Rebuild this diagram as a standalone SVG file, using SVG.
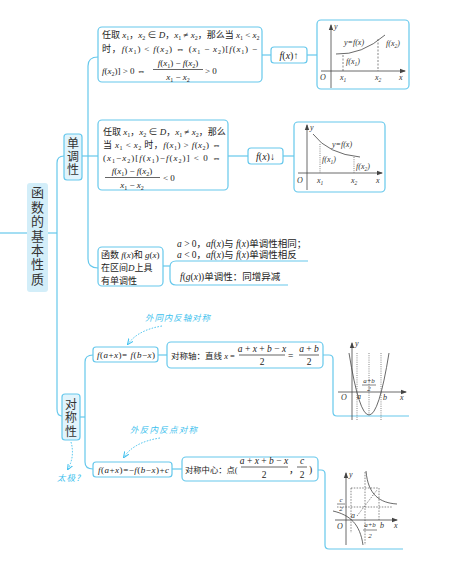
<svg xmlns="http://www.w3.org/2000/svg" width="452" height="578" viewBox="0 0 452 578">
<style>
.ln{fill:none;stroke:#66c8ec;stroke-width:1.2}
.bx{fill:#fff;stroke:#66c8ec;stroke-width:1.2}
.nd{fill:#e1f4fc;stroke:#66c8ec;stroke-width:1.2}
.t{font-family:"Liberation Serif","Noto Sans CJK SC",serif;font-size:9px;fill:#222}
.big{font-family:"Noto Sans CJK SC",sans-serif;font-size:13px;fill:#333;writing-mode:vertical-rl}
.i{font-style:italic}
.s{font-size:6px}
.g{fill:none;stroke:#444;stroke-width:0.8}
.dh{fill:none;stroke:#555;stroke-width:0.7;stroke-dasharray:2 1.5}
.gt{font-family:"Liberation Serif",serif;font-size:8px;font-style:italic;fill:#333}
.an{font-family:"Noto Sans CJK SC",sans-serif;font-size:8.5px;fill:#3dbfee;font-style:italic}
.ad{fill:none;stroke:#3dbfee;stroke-width:1;stroke-dasharray:1.5 1.5}
.fr{stroke:#222;stroke-width:0.7}
</style>
<defs>
<marker id="ax" viewBox="0 0 6 6" refX="5" refY="3" markerWidth="6" markerHeight="6" orient="auto" markerUnits="userSpaceOnUse"><path d="M0 0.8L6 3L0 5.2z" fill="#444"/></marker>
<marker id="aa" viewBox="0 0 6 6" refX="5" refY="3" markerWidth="6" markerHeight="6" orient="auto" markerUnits="userSpaceOnUse"><path d="M0 0.5L6 3L0 5.5" fill="none" stroke="#3dbfee" stroke-width="1"/></marker>
</defs>

<g id="connectors">
<path class="ln" d="M0 233H27"/>
<path class="ln" d="M48 233H57"/>
<path class="ln" d="M64 156Q57 156 57 163V409Q57 416 62 416"/>
<path class="ln" d="M82 156H98"/>
<path class="ln" d="M98 57Q88 57 88 66V259Q88 268 98 268"/>
<path class="ln" d="M262 55H271"/>
<path class="ln" d="M307 55H317"/>
<path class="ln" d="M228 156H248"/>
<path class="ln" d="M283 156H294"/>
<path class="ln" d="M163 266H170"/>
<path class="ln" d="M308 261H176Q170 261 170 267V279Q170 285 176 285H288"/>
<path class="ln" d="M80 417H85"/>
<path class="ln" d="M93 355Q85 355 85 362V462Q85 469 93 469"/>
<path class="ln" d="M158 355H167"/>
<path class="ln" d="M323 355H329Q333 355 333 359V412Q333 416 337 416H409"/>
<path class="ln" d="M172 469H182"/>
<path class="ln" d="M318 470H321Q325 470 325 474V545Q325 549 329 549H403"/>
<path class="ad" d="M162 326Q138 330 128 344" marker-end="url(#aa)"/>
<path class="ad" d="M160 438Q134 442 124 457" marker-end="url(#aa)"/>
<path class="ad" d="M71 442Q75 456 68 469" marker-end="url(#aa)"/>
</g>

<g id="root">
<rect x="27" y="183" width="21" height="109" rx="3" fill="#d3eef9"/>
<text class="big" x="37.5" y="186" style="letter-spacing:1.4px">函数的基本性质</text>
</g>

<g id="mono">
<rect class="nd" x="64" y="134" width="18" height="46" rx="3"/>
<text class="big" x="73" y="137" style="font-size:12px;letter-spacing:1px">单调性</text>
</g>

<g id="sym">
<rect class="nd" x="62" y="394" width="18" height="46" rx="3"/>
<text class="big" x="71" y="398" style="font-size:12px;letter-spacing:1.5px">对称性</text>
</g>

<g id="inc-def">
<rect class="bx" x="98" y="27" width="164" height="55" rx="4"/>
<text class="t" x="102" y="38">任取 <tspan class="i">x</tspan><tspan class="s" dy="2">1</tspan><tspan dy="-2">，</tspan><tspan class="i">x</tspan><tspan class="s" dy="2">2</tspan><tspan dy="-2"> ∈ </tspan><tspan class="i">D</tspan>，<tspan class="i">x</tspan><tspan class="s" dy="2">1</tspan><tspan dy="-2"> ≠ </tspan><tspan class="i">x</tspan><tspan class="s" dy="2">2</tspan><tspan dy="-2">，那么当 </tspan><tspan class="i">x</tspan><tspan class="s" dy="2">1</tspan><tspan dy="-2"> &lt; </tspan><tspan class="i">x</tspan><tspan class="s" dy="2">2</tspan></text>
<text class="t" x="102" y="52" textLength="155">时，<tspan class="i">f</tspan>(<tspan class="i">x</tspan><tspan class="s" dy="2">1</tspan><tspan dy="-2">) &lt; </tspan><tspan class="i">f</tspan>(<tspan class="i">x</tspan><tspan class="s" dy="2">2</tspan><tspan dy="-2">) ⇔ (</tspan><tspan class="i">x</tspan><tspan class="s" dy="2">1</tspan><tspan dy="-2"> − </tspan><tspan class="i">x</tspan><tspan class="s" dy="2">2</tspan><tspan dy="-2">)[</tspan><tspan class="i">f</tspan>(<tspan class="i">x</tspan><tspan class="s" dy="2">1</tspan><tspan dy="-2">) −</tspan></text>
<text class="t" x="102" y="74"><tspan class="i">f</tspan>(<tspan class="i">x</tspan><tspan class="s" dy="2">2</tspan><tspan dy="-2">)] &gt; 0 ⇔</tspan></text>
<text class="t" x="178" y="66" text-anchor="middle"><tspan class="i">f</tspan>(<tspan class="i">x</tspan><tspan class="s" dy="2">1</tspan><tspan dy="-2">) − </tspan><tspan class="i">f</tspan>(<tspan class="i">x</tspan><tspan class="s" dy="2">2</tspan><tspan dy="-2">)</tspan></text>
<line class="fr" x1="153" y1="69.5" x2="203" y2="69.5"/>
<text class="t" x="178" y="80" text-anchor="middle"><tspan class="i">x</tspan><tspan class="s" dy="2">1</tspan><tspan dy="-2"> − </tspan><tspan class="i">x</tspan><tspan class="s" dy="2">2</tspan></text>
<text class="t" x="205" y="74">&gt; 0</text>
</g>

<g id="inc">
<rect class="bx" x="271" y="47" width="36" height="16" rx="3"/>
<text class="t" x="289" y="58.5" text-anchor="middle" style="font-size:10px"><tspan class="i">f</tspan>(<tspan class="i">x</tspan>)↑</text>
</g>

<g id="inc-graph">
<rect class="bx" x="317" y="20" width="92" height="69" rx="4"/>
<path class="g" d="M331 88V25" marker-end="url(#ax)"/>
<path class="g" d="M321 71H405" marker-end="url(#ax)"/>
<path class="g" d="M336 54Q362 55 385 35"/>
<path class="dh" d="M343 55V71M378 39V71"/>
<text class="gt" x="334" y="29">y</text>
<text class="gt" x="344" y="45">y=f(x)</text>
<text class="gt" x="386" y="46">f(x<tspan font-size="5.5" dy="1.5">2</tspan><tspan dy="-1.5">)</tspan></text>
<text class="gt" x="346" y="64">f(x<tspan font-size="5.5" dy="1.5">1</tspan><tspan dy="-1.5">)</tspan></text>
<text class="gt" x="320" y="80">O</text>
<text class="gt" x="340" y="80">x<tspan font-size="5.5" dy="1.5">1</tspan></text>
<text class="gt" x="375" y="80">x<tspan font-size="5.5" dy="1.5">2</tspan></text>
<text class="gt" x="399" y="80">x</text>
</g>

<g id="dec-def">
<rect class="bx" x="98" y="120" width="130" height="70" rx="4"/>
<text class="t" x="103" y="135">任取 <tspan class="i">x</tspan><tspan class="s" dy="2">1</tspan><tspan dy="-2">，</tspan><tspan class="i">x</tspan><tspan class="s" dy="2">2</tspan><tspan dy="-2"> ∈ </tspan><tspan class="i">D</tspan>，<tspan class="i">x</tspan><tspan class="s" dy="2">1</tspan><tspan dy="-2"> ≠ </tspan><tspan class="i">x</tspan><tspan class="s" dy="2">2</tspan><tspan dy="-2">，那么</tspan></text>
<text class="t" x="103" y="148" textLength="118">当 <tspan class="i">x</tspan><tspan class="s" dy="2">1</tspan><tspan dy="-2"> &lt; </tspan><tspan class="i">x</tspan><tspan class="s" dy="2">2</tspan><tspan dy="-2"> 时，</tspan><tspan class="i">f</tspan>(<tspan class="i">x</tspan><tspan class="s" dy="2">1</tspan><tspan dy="-2">) &gt; </tspan><tspan class="i">f</tspan>(<tspan class="i">x</tspan><tspan class="s" dy="2">2</tspan><tspan dy="-2">) ⇔</tspan></text>
<text class="t" x="103" y="161" textLength="118">(<tspan class="i">x</tspan><tspan class="s" dy="2">1</tspan><tspan dy="-2">−</tspan><tspan class="i">x</tspan><tspan class="s" dy="2">2</tspan><tspan dy="-2">)[</tspan><tspan class="i">f</tspan>(<tspan class="i">x</tspan><tspan class="s" dy="2">1</tspan><tspan dy="-2">)−</tspan><tspan class="i">f</tspan>(<tspan class="i">x</tspan><tspan class="s" dy="2">2</tspan><tspan dy="-2">)] &lt; 0 ⇔</tspan></text>
<text class="t" x="132" y="174" text-anchor="middle"><tspan class="i">f</tspan>(<tspan class="i">x</tspan><tspan class="s" dy="2">1</tspan><tspan dy="-2">) − </tspan><tspan class="i">f</tspan>(<tspan class="i">x</tspan><tspan class="s" dy="2">2</tspan><tspan dy="-2">)</tspan></text>
<line class="fr" x1="105" y1="177.5" x2="160" y2="177.5"/>
<text class="t" x="132" y="188" text-anchor="middle"><tspan class="i">x</tspan><tspan class="s" dy="2">1</tspan><tspan dy="-2"> − </tspan><tspan class="i">x</tspan><tspan class="s" dy="2">2</tspan></text>
<text class="t" x="163" y="181">&lt; 0</text>
</g>

<g id="dec">
<rect class="bx" x="248" y="148" width="35" height="16" rx="3"/>
<text class="t" x="265.5" y="159.5" text-anchor="middle" style="font-size:10px"><tspan class="i">f</tspan>(<tspan class="i">x</tspan>)↓</text>
</g>

<g id="dec-graph">
<rect class="bx" x="294" y="122" width="91" height="70" rx="4"/>
<path class="g" d="M307 190V125" marker-end="url(#ax)"/>
<path class="g" d="M298 173H382" marker-end="url(#ax)"/>
<path class="g" d="M313 134Q328 154 360 157"/>
<path class="dh" d="M320 144V173M354 157V173" style="stroke-dasharray:1 1.2"/>
<text class="gt" x="310" y="130">y</text>
<text class="gt" x="332" y="147">y=f(x)</text>
<text class="gt" x="322" y="162">f(x<tspan font-size="5.5" dy="1.5">1</tspan><tspan dy="-1.5">)</tspan></text>
<text class="gt" x="356" y="169">f(x<tspan font-size="5.5" dy="1.5">2</tspan><tspan dy="-1.5">)</tspan></text>
<text class="gt" x="297" y="183">O</text>
<text class="gt" x="317" y="183">x<tspan font-size="5.5" dy="1.5">1</tspan></text>
<text class="gt" x="351" y="183">x<tspan font-size="5.5" dy="1.5">2</tspan></text>
<text class="gt" x="376" y="183">x</text>
</g>

<g id="ops">
<rect class="bx" x="98" y="247" width="65" height="39" rx="4"/>
<text class="t" x="101" y="258">函数 <tspan class="i">f</tspan>(<tspan class="i">x</tspan>)和 <tspan class="i">g</tspan>(<tspan class="i">x</tspan>)</text>
<text class="t" x="101" y="271">在区间<tspan class="i">D</tspan>上具</text>
<text class="t" x="101" y="284">有单调性</text>
</g>

<g id="ops-rules">
<text class="t" x="177" y="247" style="font-size:9.5px"><tspan class="i">a</tspan> &gt; 0，<tspan class="i">af</tspan>(<tspan class="i">x</tspan>)与 <tspan class="i">f</tspan>(<tspan class="i">x</tspan>)单调性相同；</text>
<text class="t" x="177" y="258" style="font-size:9.5px"><tspan class="i">a</tspan> &lt; 0，<tspan class="i">af</tspan>(<tspan class="i">x</tspan>)与 <tspan class="i">f</tspan>(<tspan class="i">x</tspan>)单调性相反</text>
<text class="t" x="180" y="280" style="font-size:9.5px"><tspan class="i">f</tspan>(<tspan class="i">g</tspan>(<tspan class="i">x</tspan>))单调性：同增异减</text>
</g>

<g id="axis-cond">
<rect class="bx" x="93" y="347" width="65" height="15" rx="3"/>
<text class="t" x="97" y="358" textLength="58"><tspan class="i">f</tspan>(<tspan class="i">a</tspan>+<tspan class="i">x</tspan>)= <tspan class="i">f</tspan>(<tspan class="i">b</tspan>−<tspan class="i">x</tspan>)</text>
</g>

<g id="axis">
<rect class="bx" x="167" y="342" width="156" height="26" rx="4"/>
<text class="t" x="171" y="359" style="font-size:8.5px">对称轴：直线 <tspan class="i">x</tspan> =</text>
<text class="t" x="262" y="352" text-anchor="middle" style="font-size:9.5px"><tspan class="i">a</tspan> + <tspan class="i">x</tspan> + <tspan class="i">b</tspan> − <tspan class="i">x</tspan></text>
<line class="fr" x1="239" y1="355" x2="285" y2="355"/>
<text class="t" x="262" y="365" text-anchor="middle" style="font-size:9.5px">2</text>
<text class="t" x="288" y="359" style="font-size:9.5px">=</text>
<text class="t" x="309" y="352" text-anchor="middle" style="font-size:9.5px"><tspan class="i">a</tspan> + <tspan class="i">b</tspan></text>
<line class="fr" x1="299" y1="355" x2="319" y2="355"/>
<text class="t" x="309" y="365" text-anchor="middle" style="font-size:9.5px">2</text>
</g>

<g id="axis-graph">
<path class="g" d="M352 420V343" marker-end="url(#ax)"/>
<path class="g" d="M338 392H406" marker-end="url(#ax)"/>
<path class="g" d="M349 353Q369 477 389 353"/>
<path class="dh" d="M357 353V420M369 353V415M381 353V420" style="stroke-dasharray:1 1.2"/>
<text class="gt" x="355" y="346">y</text>
<text class="gt" x="341" y="400">O</text>
<text class="gt" x="357" y="399">a</text>
<text class="gt" x="383" y="400">b</text>
<text class="gt" x="400" y="400">x</text>
<text class="gt" x="369" y="383" text-anchor="middle" style="font-size:7px">a+b</text>
<line x1="362" y1="385" x2="376" y2="385" stroke="#333" stroke-width="0.6"/>
<text class="gt" x="369" y="391" text-anchor="middle" style="font-size:7px">2</text>
</g>

<g id="center-cond">
<rect class="bx" x="93" y="462" width="79" height="15" rx="3"/>
<text class="t" x="98" y="473" textLength="71"><tspan class="i">f</tspan>(<tspan class="i">a</tspan>+<tspan class="i">x</tspan>)=−<tspan class="i">f</tspan>(<tspan class="i">b</tspan>−<tspan class="i">x</tspan>)+<tspan class="i">c</tspan></text>
</g>

<g id="center">
<rect class="bx" x="182" y="457" width="136" height="24" rx="4"/>
<text class="t" x="185" y="473" style="font-size:8.3px">对称中心：点(</text>
<text class="t" x="264" y="464" text-anchor="middle" style="font-size:9.5px"><tspan class="i">a</tspan> + <tspan class="i">x</tspan> + <tspan class="i">b</tspan> − <tspan class="i">x</tspan></text>
<line class="fr" x1="241" y1="467" x2="288" y2="467"/>
<text class="t" x="264" y="478" text-anchor="middle" style="font-size:9.5px">2</text>
<text class="t" x="289" y="473" style="font-size:9.5px">，</text>
<text class="t" x="302" y="464" text-anchor="middle" font-style="italic" style="font-size:9.5px">c</text>
<line class="fr" x1="297" y1="467" x2="307" y2="467"/>
<text class="t" x="302" y="478" text-anchor="middle" style="font-size:9.5px">2</text>
<text class="t" x="309" y="473" style="font-size:9.5px">)</text>
</g>

<g id="center-graph">
<path class="g" d="M346 545V473" marker-end="url(#ax)"/>
<path class="g" d="M335 520H397" marker-end="url(#ax)"/>
<path class="dh" d="M365 472V545M337 507H393M351 488V533M379 488V520M351 488H379M357 516L377 490" style="stroke-dasharray:1.5 1.3"/>
<path class="g" d="M333 511C350 515 360 524 363 545"/>
<path class="g" d="M366 471C368 495 380 503 397 504"/>
<text class="gt" x="349" y="477">y</text>
<text class="gt" x="341" y="502" text-anchor="middle" style="font-size:7px">c</text>
<line x1="337" y1="504" x2="345" y2="504" stroke="#333" stroke-width="0.6"/>
<text class="gt" x="341" y="511" text-anchor="middle" style="font-size:7px">2</text>
<text class="gt" x="337" y="529">O</text>
<text class="gt" x="351" y="518">a</text>
<text class="gt" x="380" y="528">b</text>
<text class="gt" x="394" y="528">x</text>
<text class="gt" x="370" y="527" text-anchor="middle" style="font-size:7px">a+b</text>
<line x1="363" y1="530" x2="377" y2="530" stroke="#333" stroke-width="0.6"/>
<text class="gt" x="370" y="538" text-anchor="middle" style="font-size:7px">2</text>
</g>

<g id="notes">
<text class="an" x="145" y="321" textLength="65">外同内反轴对称</text>
<text class="an" x="130" y="433" textLength="67">外反内反点对称</text>
<text class="an" x="57" y="481" textLength="23">太极?</text>
</g>
</svg>
